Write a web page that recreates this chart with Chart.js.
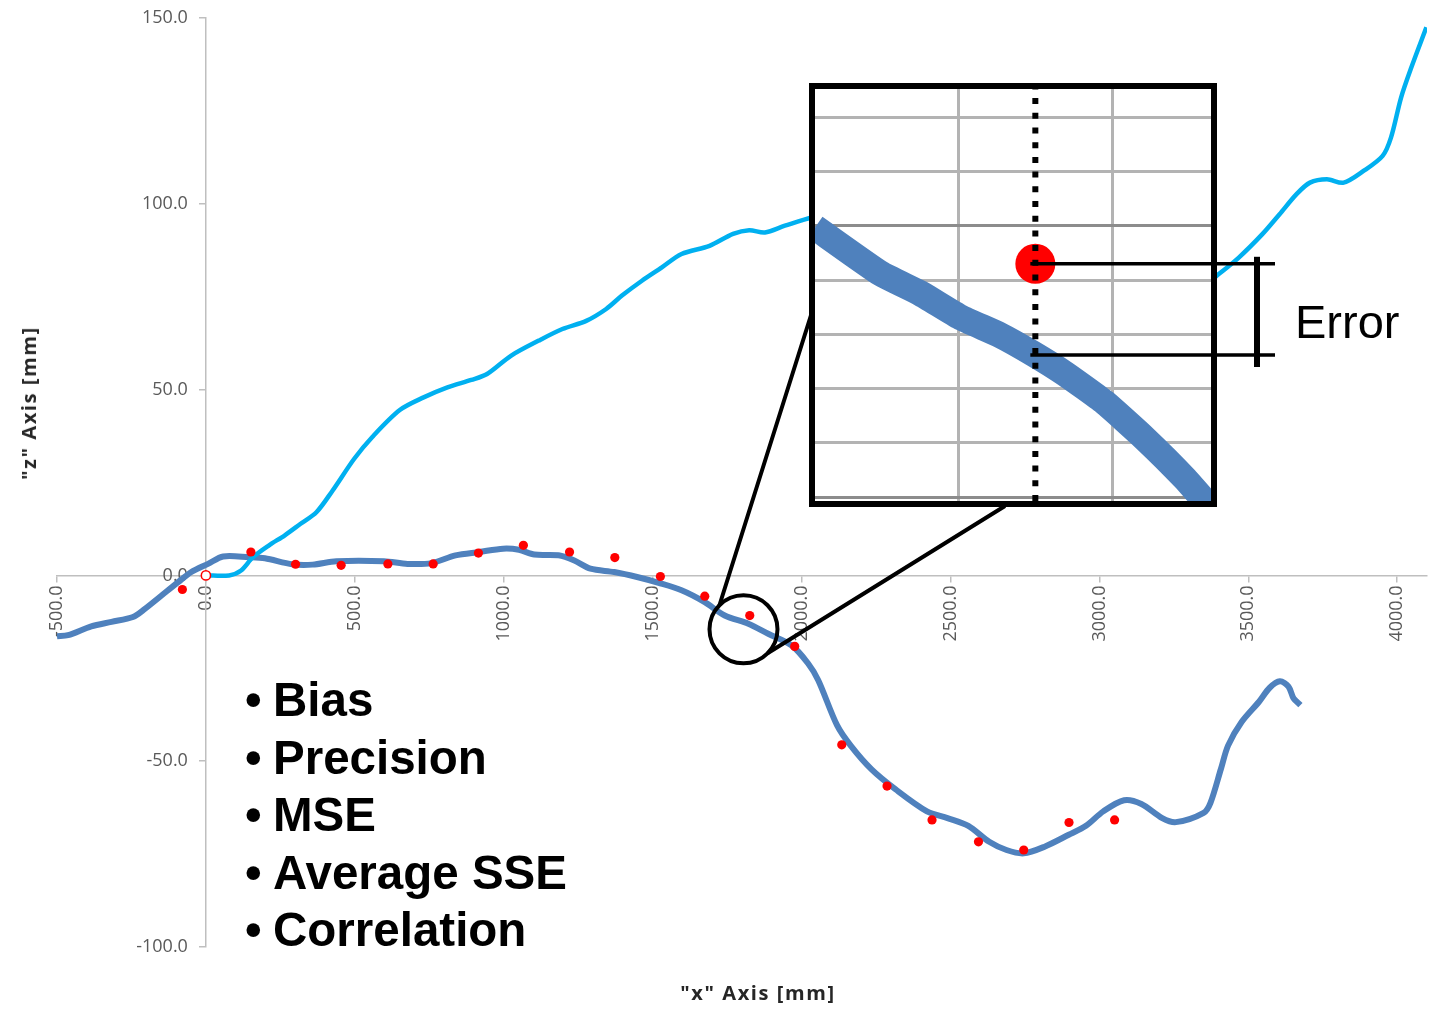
<!DOCTYPE html>
<html>
<head>
<meta charset="utf-8">
<title>Error metrics</title>
<script src="https://cdn.jsdelivr.net/npm/chart.js@4.4.1/dist/chart.umd.min.js"></script>
<style>
  body { margin: 0; background: #fff; }
  #page { position: relative; width: 1431px; height: 1016px; overflow: hidden; font-family: "Liberation Sans", Arial, sans-serif; }
  #main { position: absolute; left: 0; top: 0; }
  #inset { position: absolute; left: 809px; top: 83px; }
  .axis-title { position: absolute; font-family: "Open Sans", sans-serif; font-weight: bold; font-size: 20px; line-height: 20px; color: #262626; white-space: nowrap; letter-spacing: 1.6px; }
  #xTitle { left: 758px; top: 983px; transform: translateX(-50%); }
  #zTitle { left: 29px; top: 403px; transform: translate(-50%, -50%) rotate(-90deg); }
  #bullets { position: absolute; left: 245px; top: 671px; font-weight: bold; font-size: 47.5px; line-height: 57.5px; color: #000; white-space: nowrap; }
  #bullets span { display: inline-block; width: 28px; }
  #errorLabel { position: absolute; left: 1295px; top: 298px; font-size: 47px; line-height: 47px; color: #000; }
</style>
</head>
<body>
<div id="page">
  <canvas id="main" width="1431" height="1016"></canvas>
  <canvas id="inset" width="622" height="430"></canvas>
  <div class="axis-title" id="xTitle">"x" Axis [mm]</div>
  <div class="axis-title" id="zTitle">"z" Axis [mm]</div>
  <div id="bullets">
    <div><span>•</span>Bias</div>
    <div><span>•</span>Precision</div>
    <div><span>•</span>MSE</div>
    <div><span>•</span>Average SSE</div>
    <div><span>•</span>Correlation</div>
  </div>
  <div id="errorLabel">Error</div>
</div>
<script>
// Measured path (dark blue)
var measuredX = [-500, -463, -385, -317, -245, -205, -149, -93, -49, 7, 58, 145, 198, 290, 358, 438, 598, 677, 757, 838,
  918, 998, 1051, 1103, 1184, 1237, 1291, 1371, 1451, 1520, 1597, 1675, 1742, 1821, 1888, 1966, 2022, 2056, 2119, 2165,
  2235, 2316, 2421, 2490, 2560, 2630, 2688, 2746, 2816, 2897, 2955, 3013, 3083, 3141, 3211, 3257, 3350, 3373, 3408, 3432,
  3478, 3536, 3571, 3606, 3635, 3652, 3675];
var measuredZ = [-16.4, -16.1, -13.7, -12.5, -11.2, -9.0, -5.4, -1.8, 0.9, 3.1, 5.1, 4.9, 4.6, 3.0, 2.9, 3.8, 3.8, 3.1, 3.3, 5.4,
  6.3, 7.2, 6.9, 5.6, 5.4, 4.0, 1.8, 0.9, -0.5, -2.0, -4.0, -7.2, -10.8, -13.0, -15.7, -18.8, -23.7, -28.2, -40.3, -45.8,
  -52.2, -57.6, -63.5, -65.3, -67.4, -71.7, -73.9, -74.8, -73.0, -69.8, -67.4, -63.5, -60.5, -61.5, -65.3, -66.4, -63.9, -61.2, -52.1, -45.8,
  -39.4, -34.0, -30.3, -28.5, -29.9, -33.1, -34.9];

// Second path (light blue)
var referenceX = [0, 78, 118, 158, 212, 265, 318, 371, 425, 498, 558, 651, 731, 811, 891, 944, 1024, 1118, 1197, 1277,
  1344, 1397, 1464, 1531, 1597, 1691, 1770, 1824, 1877, 1944, 2037, 2200, 2500, 2800, 3100, 3300, 3401, 3469, 3548, 3605,
  3662, 3707, 3764, 3820, 3888, 3951, 3979, 4013, 4047, 4098];
var referenceZ = [0, 0, 1.3, 4.9, 8.1, 10.8, 13.9, 17.0, 22.8, 31.4, 37.2, 44.5, 47.9, 50.6, 52.6, 54.2, 59.1, 63.2, 66.3, 68.5,
  71.7, 75.3, 79.3, 82.9, 86.5, 88.7, 91.9, 92.9, 92.3, 94.1, 96.3, 98, 96, 90, 82, 75, 81.1, 85.6, 91.9, 97.2,
  102.6, 105.7, 106.6, 105.7, 108.9, 112.9, 117.8, 128.6, 136.6, 147.5];

// Sampled points (red)
var sampleX = [-79, 0, 151, 301, 454, 611, 763, 915, 1066, 1221, 1373, 1526, 1675, 1826, 1977, 2135, 2287, 2438, 2594, 2746, 2898, 3051];
var sampleZ = [-3.8, 0, 6.3, 3.0, 2.7, 3.1, 3.1, 6.0, 8.1, 6.3, 4.8, -0.3, -5.6, -10.8, -19.1, -45.6, -56.7, -65.8, -71.7, -73.9, -66.5, -65.8];

var xTickValues = [-500, 0, 500, 1000, 1500, 2000, 2500, 3000, 3500, 4000];
var zTickValues = [-100, -50, 0, 50, 100, 150];

// Magnified detail (inset units)
var insetX = [-0.93, -0.506, -0.247, 0.013, 0.273, 0.481, 0.688, 0.948, 1.208, 1.468, 1.70];
var insetZ = [4.97, 4.125, 3.757, 3.315, 2.983, 2.652, 2.284, 1.75, 1.087, 0.35, -0.4];
var insetGridX = [0, 1];
var insetGridZ = [0, 1, 2, 3, 4, 5, 6, 7];
var errorX = [0.5];
var errorZ = [4.3];
var errorFoot = 2.62;

// Circle marking the magnified spot (data units)
var zoomCentre = [1805, -14.5];

function toPoints(xs, ys) {
    return xs.map(function (x, i) { return { x: x, y: ys[i] }; });
}

var axisGrey = '#bfbfbf';
var tickFont = { family: 'Open Sans', size: 18 };

/**
 * Circle + connector lines to the inset
 */
var zoomMarker = {
    id: 'zoomMarker',
    afterDatasetsDraw: function (chart) {
        var c = chart.ctx;
        var cx = chart.scales.x.getPixelForValue(zoomCentre[0]);
        var cy = chart.scales.y.getPixelForValue(zoomCentre[1]);
        var r = 34;
        var d = r * Math.SQRT1_2;
        c.save();
        c.strokeStyle = '#000';
        c.lineWidth = 4;
        c.beginPath();
        c.arc(cx, cy, r, 0, Math.PI * 2);
        c.stroke();
        c.beginPath();
        c.moveTo(cx - d, cy - d);
        c.lineTo(812, 312);
        c.moveTo(cx + d, cy + d);
        c.lineTo(1005, 506);
        c.stroke();
        c.restore();
    }
};

/**
 * Labels of an axis placed at x = 0 sit on the line: move them left of the tick marks
 */
var zLabelShift = {
    id: 'zLabelShift',
    beforeDraw: function (chart) {
        var items = chart.scales.y.getLabelItems(chart.chartArea);
        if (items.shifted)
            return;
        items.forEach(function (item) { item.options.translation[0] -= 18; });
        items.shifted = true;
    }
};

new Chart(document.getElementById('main'), {
    type: 'scatter',
    data: {
        datasets: [
            {
                label: 'Samples',
                data: toPoints(sampleX, sampleZ),
                showLine: false,
                pointRadius: 4.6,
                pointBackgroundColor: sampleX.map(function (v) { return v === 0 ? '#ffffff' : '#ff0000'; }),
                pointBorderColor: '#ff0000',
                pointBorderWidth: sampleX.map(function (v) { return v === 0 ? 1.5 : 0; })
            },
            {
                label: 'Reference',
                data: toPoints(referenceX, referenceZ),
                showLine: true,
                borderColor: '#00b0f0',
                borderWidth: 4.5,
                pointRadius: 0,
                tension: 0.3
            },
            {
                label: 'Measured',
                data: toPoints(measuredX, measuredZ),
                showLine: true,
                borderColor: '#4f81bd',
                borderWidth: 6,
                pointRadius: 0,
                tension: 0.3
            }
        ]
    },
    options: {
        responsive: false,
        animation: false,
        layout: { autoPadding: false, padding: { left: 57, right: 4, top: 18, bottom: 69 } },
        plugins: { legend: { display: false }, tooltip: { enabled: false } },
        scales: {
            x: {
                type: 'linear',
                min: -500,
                max: 4100,
                position: { y: 0 },
                afterBuildTicks: function (axis) {
                    axis.ticks = xTickValues.map(function (v) { return { value: v }; });
                },
                ticks: {
                    minRotation: 90,
                    maxRotation: 90,
                    autoSkip: false,
                    padding: 4,
                    color: '#595959',
                    font: tickFont,
                    callback: function (v) { return Number(v).toFixed(1); }
                },
                grid: { drawOnChartArea: false, tickLength: 6, color: axisGrey, lineWidth: 1.5 },
                border: { color: axisGrey, width: 1.5 }
            },
            y: {
                type: 'linear',
                min: -100,
                max: 150,
                position: { x: 0 },
                afterBuildTicks: function (axis) {
                    axis.ticks = zTickValues.map(function (v) { return { value: v }; });
                },
                ticks: {
                    color: '#595959',
                    font: tickFont,
                    callback: function (v) { return Number(v).toFixed(1); }
                },
                grid: { drawOnChartArea: false, tickLength: 6, color: axisGrey, lineWidth: 1.5 },
                border: { color: axisGrey, width: 1.5 }
            }
        }
    },
    plugins: [zLabelShift, zoomMarker]
});

/**
 * Inset frame and error bracket
 */
var insetFrame = {
    id: 'insetFrame',
    beforeDraw: function (chart) {
        var a = chart.chartArea;
        chart.ctx.save();
        chart.ctx.fillStyle = '#ffffff';
        chart.ctx.fillRect(a.left, a.top, a.right - a.left, a.bottom - a.top);
        chart.ctx.restore();
    },
    afterDraw: function (chart) {
        var a = chart.chartArea;
        var c = chart.ctx;
        var xs = chart.scales.x;
        var ys = chart.scales.y;
        var px = xs.getPixelForValue(errorX[0]);
        var yTop = ys.getPixelForValue(errorZ[0]);
        var yFoot = ys.getPixelForValue(errorFoot);
        c.save();
        c.strokeStyle = '#000';
        c.lineWidth = 6;
        c.strokeRect(a.left - 3, a.top - 3, a.right - a.left + 6, a.bottom - a.top + 6);
        // Error lines
        c.lineWidth = 3.5;
        c.beginPath();
        c.moveTo(px - 5, yTop);
        c.lineTo(466, yTop);
        c.moveTo(px - 5, yFoot);
        c.lineTo(466, yFoot);
        c.stroke();
        c.lineWidth = 6;
        c.beginPath();
        c.moveTo(448, yTop - 7);
        c.lineTo(448, yFoot + 12);
        c.stroke();
        c.restore();
    }
};

new Chart(document.getElementById('inset'), {
    type: 'scatter',
    data: {
        datasets: [
            {
                label: 'Section',
                data: [{ x: errorX[0], y: -0.07 }, { x: errorX[0], y: 7.52 }],
                showLine: true,
                borderColor: '#000',
                borderWidth: 6,
                borderDash: [6, 8.7],
                borderCapStyle: 'butt',
                pointRadius: 0
            },
            {
                label: 'Sample',
                data: toPoints(errorX, errorZ),
                showLine: false,
                pointRadius: 20,
                pointBackgroundColor: '#ff0000',
                pointBorderWidth: 0
            },
            {
                label: 'Measured',
                data: toPoints(insetX, insetZ),
                showLine: true,
                borderColor: '#4f81bd',
                borderWidth: 26,
                borderCapStyle: 'butt',
                pointRadius: 0,
                tension: 0.15,
                clip: 0
            }
        ]
    },
    options: {
        responsive: false,
        animation: false,
        layout: { autoPadding: false, padding: { left: 6, top: 6, right: 220, bottom: 12 } },
        plugins: { legend: { display: false }, tooltip: { enabled: false } },
        scales: {
            x: {
                type: 'linear',
                min: -0.93,
                max: 1.64,
                position: { y: -0.07 },
                afterBuildTicks: function (axis) {
                    axis.ticks = insetGridX.map(function (v) { return { value: v }; });
                },
                ticks: { display: false },
                grid: { color: '#b3b3b3', lineWidth: 3, drawTicks: false },
                border: { display: false }
            },
            y: {
                type: 'linear',
                min: -0.07,
                max: 7.52,
                position: { x: -0.93 },
                afterBuildTicks: function (axis) {
                    axis.ticks = insetGridZ.map(function (v) { return { value: v }; });
                },
                ticks: { display: false },
                grid: {
                    color: function (ctx) {
                        return (ctx.tick && (ctx.tick.value === 0 || ctx.tick.value === 5)) ? '#8c8c8c' : '#b3b3b3';
                    },
                    lineWidth: 3,
                    drawTicks: false
                },
                border: { display: false }
            }
        }
    },
    plugins: [insetFrame]
});
</script>
</body>
</html>
